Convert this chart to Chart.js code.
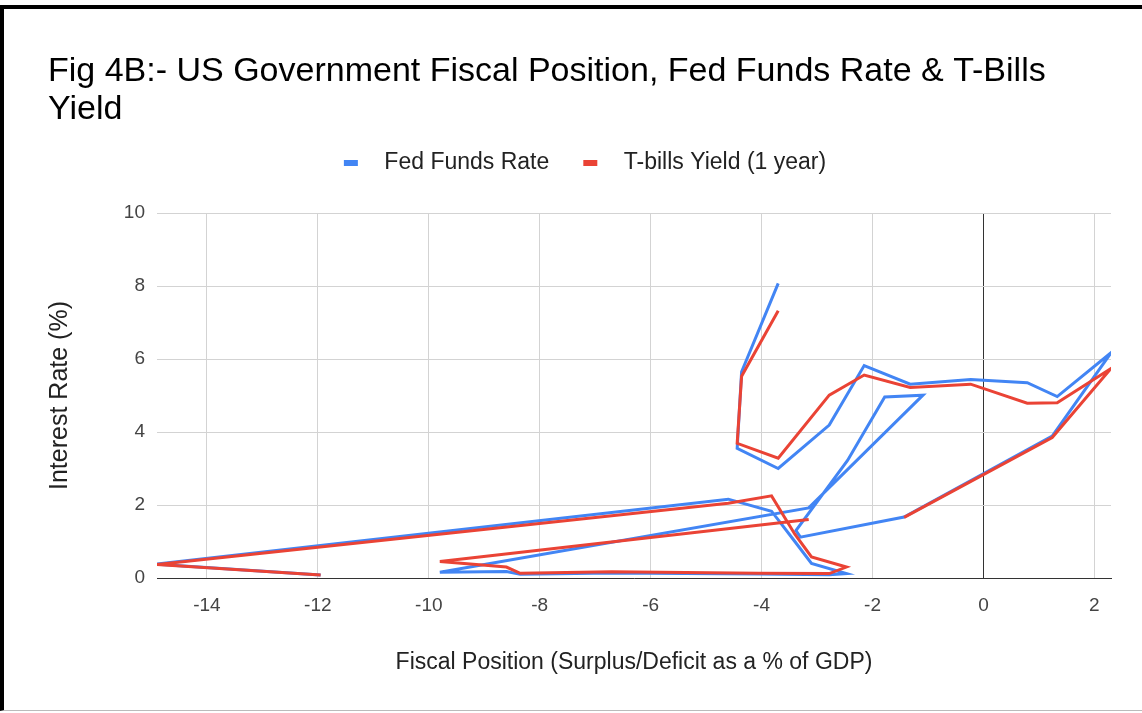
<!DOCTYPE html>
<html>
<head>
<meta charset="utf-8">
<title>Fig 4B</title>
<script src="https://cdn.jsdelivr.net/npm/chart.js@4.4.1/dist/chart.umd.min.js"></script>
<style>
  html, body { margin: 0; padding: 0; background: #fff; }
  #wrap { position: absolute; left: 0; top: 0; width: 1142px; height: 713px; }
  #frame {
    position: absolute; left: 0; top: 5px; width: 1142px; height: 706px;
    box-sizing: border-box; border-top: 4px solid #000; border-left: 4px solid #000;
    border-bottom: 1px solid #bbb; pointer-events: none;
  }
</style>
</head>
<body>
<div id="wrap"><canvas id="chart"></canvas></div>
<div id="frame"></div>
<script>
// Años (orden de la línea)
const years = [1990, 1991, 1992, 1993, 1994, 1995, 1996, 1997, 1998, 1999, 2000, 2001, 2002,
  2003, 2004, 2005, 2006, 2007, 2008, 2009, 2010, 2011, 2012, 2013, 2014, 2015, 2016,
  2017, 2018, 2019, 2020, 2021];

// Superávit / déficit como % del PIB (eje X)
const fiscal = [-3.70, -4.36, -4.44, -3.70, -2.78, -2.15, -1.32, -0.23, 0.79, 1.33, 2.30, 1.24, -1.43,
  -3.30, -3.38, -2.45, -1.78, -1.09, -3.15, -9.80, -8.60, -8.35, -6.70, -4.05, -2.78, -2.47, -3.10,
  -3.40, -3.82, -4.60, -14.90, -11.95];

// Tasas (%)
const fedFunds = [8.07, 5.65, 3.55, 3.00, 4.19, 5.82, 5.31, 5.44, 5.35, 4.97, 6.17, 3.89, 1.67,
  1.12, 1.30, 3.22, 4.96, 5.01, 1.92, 0.16, 0.18, 0.10, 0.14, 0.11, 0.09, 0.12, 0.40,
  1.00, 1.83, 2.16, 0.38, 0.08];
const tBills = [7.32, 5.53, 3.69, 3.28, 5.01, 5.56, 5.22, 5.31, 4.79, 4.80, 5.74, 3.85, 1.66,
  null, null, null, null, null, 1.60, 0.45, 0.30, 0.13, 0.17, 0.13, 0.12, 0.30, 0.58,
  1.20, 2.25, 2.05, 0.37, 0.08];

// Marcas de los ejes
const xTicks = [-14, -12, -10, -8, -6, -4, -2, 0, 2];
const yTicks = [0, 2, 4, 6, 8, 10];

const seriesNames = ['Fed Funds Rate', 'T-bills Yield (1 year)'];
const seriesColors = ['#4285f4', '#ea4335'];
const titleLines = ['Fig 4B:- US Government Fiscal Position, Fed Funds Rate & T-Bills', 'Yield'];
const xTitle = 'Fiscal Position (Surplus/Deficit as a % of GDP)';
const yTitle = 'Interest Rate (%)';

const FONT = "'Liberation Sans', Arial, sans-serif";

// Marcadores de la leyenda (rectángulo corto)
function makeMarker(color) {
  const c = document.createElement('canvas');
  c.width = 40;
  c.height = 6;
  const g = c.getContext('2d');
  g.fillStyle = color;
  g.fillRect(11, 0, 14, 6);
  return c;
}
const markers = seriesColors.map(makeMarker);

function toPoints(ys) {
  return fiscal.map((x, i) => ({ x: x, y: ys[i] }));
}

const ctx = document.getElementById('chart').getContext('2d');
new Chart(ctx, {
  type: 'scatter',
  data: {
    datasets: [
      {
        label: seriesNames[0],
        data: toPoints(fedFunds),
        borderColor: seriesColors[0],
        backgroundColor: seriesColors[0],
        order: 1
      },
      {
        label: seriesNames[1],
        data: toPoints(tBills),
        borderColor: seriesColors[1],
        backgroundColor: seriesColors[1],
        order: 0
      }
    ]
  },
  options: {
    responsive: true,
    maintainAspectRatio: false,
    animation: false,
    datasets: {
      scatter: {
        showLine: true,
        borderWidth: 3,
        pointRadius: 0,
        pointHoverRadius: 0,
        tension: 0,
        spanGaps: false,
        borderJoinStyle: 'miter'
      }
    },
    layout: {
      padding: { left: 48, right: 31, top: 0, bottom: 38.5 }
    },
    plugins: {
      title: {
        display: true,
        text: titleLines,
        align: 'start',
        color: '#000',
        font: { family: FONT, size: 34, weight: 'normal', lineHeight: 38 / 34 },
        padding: { top: 52.5, bottom: 0 }
      },
      subtitle: {
        // separador entre la leyenda y el área del gráfico
        display: true,
        text: '',
        weight: 500,
        font: { size: 1, lineHeight: 0 },
        padding: { top: 28.5, bottom: 0 }
      },
      legend: {
        position: 'top',
        align: 'center',
        labels: {
          usePointStyle: true,
          pointStyleWidth: 40,
          padding: 23,
          color: '#222',
          font: { family: FONT, size: 23 },
          generateLabels: chart => Chart.defaults.plugins.legend.labels.generateLabels(chart)
            .sort((a, b) => a.datasetIndex - b.datasetIndex)
            .map(item => Object.assign(item, { pointStyle: markers[item.datasetIndex] }))
        }
      },
      tooltip: { enabled: false }
    },
    scales: {
      x: {
        type: 'linear',
        position: 'bottom',
        min: -14.9,
        max: 2.3,
        bounds: 'data',
        afterBuildTicks: scale => { scale.ticks = xTicks.map(v => ({ value: v })); },
        ticks: {
          color: '#444',
          padding: 16,
          font: { family: FONT, size: 19 }
        },
        grid: {
          drawTicks: false,
          color: c => (c.tick && c.tick.value === 0 ? '#333' : '#d3d3d3'),
          lineWidth: 1
        },
        border: { display: true, color: '#333', width: 1 },
        title: {
          display: true,
          text: xTitle,
          color: '#222',
          font: { family: FONT, size: 23, lineHeight: 1 },
          padding: 0
        },
        afterFit: scale => { scale.height = 96.5; }
      },
      y: {
        type: 'linear',
        min: 0,
        max: 10,
        afterBuildTicks: scale => { scale.ticks = yTicks.map(v => ({ value: v })); },
        ticks: {
          color: '#444',
          padding: 12,
          font: { family: FONT, size: 19 }
        },
        grid: { drawTicks: false, color: '#d3d3d3', lineWidth: 1 },
        border: { display: false },
        title: {
          display: true,
          text: yTitle,
          color: '#222',
          font: { family: FONT, size: 25, lineHeight: 1 },
          padding: 0
        },
        afterFit: scale => { scale.width = 109; }
      }
    }
  }
});
</script>
</body>
</html>
